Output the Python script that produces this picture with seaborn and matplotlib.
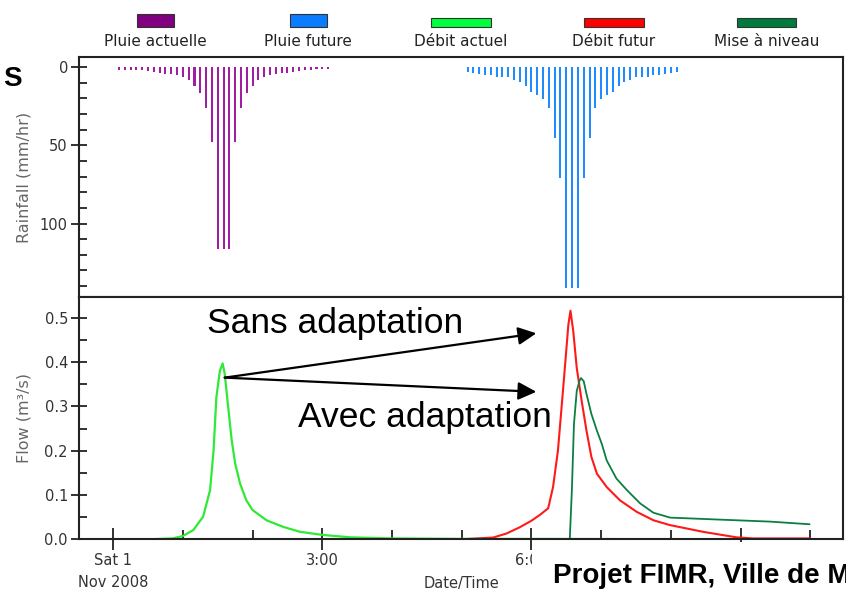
import matplotlib
matplotlib.use("Agg")
import numpy as np
import matplotlib.pyplot as plt
import matplotlib.patches as mpatches
from matplotlib.legend_handler import HandlerPatch
from matplotlib.offsetbox import VPacker
from matplotlib.ticker import MultipleLocator, FormatStrFormatter
import seaborn as sns

# rainfall, 5-minute steps, minutes after Sat 1 Nov 2008 00:00 (mm/hr)
pluie_actuelle_min = [5, 10, 15, 20, 25, 30, 35, 40, 45, 50, 55, 60, 65, 70, 75, 80, 85,
                      90, 95, 100,
                      105, 110, 115, 120, 125, 130, 135, 140, 145, 150, 155, 160, 165, 170, 175, 180, 185]
pluie_actuelle = [1.5, 1.5, 1.5, 1.8, 1.8, 2.2, 3.2, 3.8, 4.2, 4.5, 5.3, 6.5, 8.5, 12.0, 16.7, 25.9, 47.6,
                  116, 116, 116,
                  47.6, 25.9, 16.7, 12.0, 8.5, 6.2, 5.0, 4.3, 3.8, 3.8, 3.0, 2.2, 1.5, 1.5, 1.2, 1.2, 1.0]

pluie_future_min = [305, 310, 315, 320, 325, 330, 335, 340, 345, 350, 355, 360, 365, 370, 375, 380, 385,
                    390, 395, 400,
                    405, 410, 415, 420, 425, 430, 435, 440, 445, 450, 455, 460, 465, 470, 475, 480, 485]
pluie_future = [2.8, 3.8, 4.3, 4.9, 5.1, 6.4, 6.0, 6.4, 8.5, 9.8, 12.0, 15.6, 17.7, 20.3, 25.9, 45.5, 70.7,
                141, 141, 141,
                70.7, 45.5, 25.9, 20.3, 17.7, 15.6, 12.0, 9.8, 8.5, 6.4, 6.4, 6.0, 5.1, 4.9, 4.3, 3.8, 2.8]

# flows (m3/s), time in hours
debit_actuel_h = [0.0, 0.5, 0.85, 1.0, 1.15, 1.29, 1.39, 1.44, 1.48, 1.53, 1.57, 1.60, 1.65, 1.70,
                  1.75, 1.82, 1.91, 2.0, 2.2, 2.44, 2.68, 3.0, 3.4, 4.0, 5.0, 10.0]
debit_actuel = [0.0, 0.0, 0.002, 0.0075, 0.021, 0.051, 0.111, 0.2, 0.32, 0.38, 0.397, 0.374, 0.298, 0.224,
                0.171, 0.126, 0.088, 0.066, 0.043, 0.028, 0.017, 0.01, 0.0045, 0.002, 0.001, 0.0]

debit_futur_h = [5.0, 5.45, 5.64, 5.83, 6.0, 6.12, 6.24, 6.31, 6.38, 6.46, 6.53, 6.56, 6.60, 6.65,
                 6.72, 6.79, 6.86, 6.94, 7.08, 7.27, 7.51, 7.75, 7.99, 8.46, 8.94, 9.18, 10.0]
debit_futur = [0.0, 0.004, 0.013, 0.027, 0.042, 0.055, 0.07, 0.118, 0.2, 0.35, 0.485, 0.516, 0.47, 0.387,
               0.313, 0.245, 0.186, 0.148, 0.118, 0.088, 0.062, 0.043, 0.032, 0.017, 0.0045, 0.002, 0.002]

mise_niveau_h = [6.55, 6.58, 6.61, 6.65, 6.69, 6.71, 6.75, 6.79, 6.86, 6.94, 7.01, 7.08, 7.22, 7.37,
                 7.56, 7.75, 7.99, 8.46, 8.94, 9.42, 9.99]
mise_niveau = [0.0, 0.111, 0.26, 0.335, 0.358, 0.364, 0.357, 0.328, 0.283, 0.245, 0.215, 0.178, 0.137, 0.111,
               0.081, 0.06, 0.049, 0.046, 0.043, 0.04, 0.034]

legend_labels = ["Pluie actuelle", "Pluie future", "Débit actuel", "Débit futur", "Mise à niveau"]
legend_colors = ["#800080", "#0a7cff", "#00ff3c", "#ff0000", "#007a3d"]
rain_ticks = [0, 50, 100]
flow_ticks = [0.0, 0.1, 0.2, 0.3, 0.4, 0.5]
xtick_hours = [0, 3, 6, 9]
# the 9:00 label sits under the caption box in the original
xtick_labels = ["Sat 1\nNov 2008", "3:00", "6:00", ""]

sns.set_theme(style="ticks")
plt.rcParams["font.family"] = ["DejaVu Sans"]

fig = plt.figure(figsize=(8.46, 5.90), dpi=100)
ax_top = fig.add_axes([0.0934, 0.4966, 0.9031, 0.4068])
ax_bot = fig.add_axes([0.0934, 0.0859, 0.9031, 0.4107])

# rainfall bars
sns.barplot(x=np.array(pluie_actuelle_min) / 60, y=pluie_actuelle, native_scale=True, width=0.35,
            color="#a01ea0", saturation=1, errorbar=None, linewidth=0, ax=ax_top)
sns.barplot(x=np.array(pluie_future_min) / 60, y=pluie_future, native_scale=True, width=0.35,
            color="#1e8cff", saturation=1, errorbar=None, linewidth=0, ax=ax_top)

# flows
sns.lineplot(x=debit_actuel_h, y=debit_actuel, color="#2fea35", lw=1.6, sort=False, estimator=None, ax=ax_bot)
sns.lineplot(x=debit_futur_h, y=debit_futur, color="#ff1a1a", lw=1.5, sort=False, estimator=None, ax=ax_bot)
sns.lineplot(x=mise_niveau_h, y=mise_niveau, color="#0c7e42", lw=1.3, sort=False, estimator=None, ax=ax_bot)

for ax in (ax_top, ax_bot):
    ax.set_xlim(-0.49, 10.47)
    for s in ax.spines.values():
        s.set_visible(True)
        s.set_color("#222222")
        s.set_linewidth(1.5)
    ax.tick_params(axis="y", which="major", direction="inout", length=12, width=1.3,
                   color="#222222", labelcolor="#333333", labelsize=10.5, pad=2)
    ax.tick_params(axis="y", which="minor", direction="in", length=6, width=1.3, color="#222222")

ax_top.set_ylim(147, -6.5)
ax_top.set_yticks(rain_ticks)
ax_top.yaxis.set_minor_locator(MultipleLocator(10))
ax_top.tick_params(axis="x", which="both", bottom=False, labelbottom=False)
ax_top.set_xlabel("")
ax_top.set_ylabel("Rainfall (mm/hr)", fontsize=11.5, color="#666666")
ax_top.yaxis.set_label_coords(-0.062, 0.5)

ax_bot.set_ylim(0, 0.547)
ax_bot.set_yticks(flow_ticks)
ax_bot.yaxis.set_major_formatter(FormatStrFormatter("%.1f"))
ax_bot.yaxis.set_minor_locator(MultipleLocator(0.05))
ax_bot.set_ylabel("Flow (m³/s)", fontsize=11.5, color="#666666")
ax_bot.yaxis.set_label_coords(-0.062, 0.5)
ax_bot.set_xticks(xtick_hours)
ax_bot.set_xticklabels(xtick_labels)
ax_bot.xaxis.set_minor_locator(MultipleLocator(1))
ax_bot.tick_params(axis="x", which="major", direction="inout", length=16, width=1.3,
                   color="#222222", labelcolor="#333333", labelsize=10.5, pad=2)
ax_bot.tick_params(axis="x", which="minor", direction="in", length=6.5, width=1.3, color="#222222")
for t in ax_bot.get_xticklabels():
    t.set_linespacing(1.55)
ax_bot.set_xlabel("Date/Time", fontsize=10.5, color="#333333")
ax_bot.xaxis.set_label_coords(0.5, -0.152)

# annotations
arrow = dict(arrowstyle="-|>,head_length=0.55,head_width=0.27", color="black",
             lw=1.6, shrinkA=0, shrinkB=0, mutation_scale=20)
ax_bot.annotate("", xy=(6.07, 0.465), xytext=(1.60, 0.365), arrowprops=arrow)
ax_bot.annotate("", xy=(6.07, 0.333), xytext=(1.60, 0.365), arrowprops=arrow)
ax_bot.text(1.349, 0.4647, "Sans adaptation", fontsize=25.5, family="Liberation Sans",
            ha="left", va="baseline", color="black")
ax_bot.text(2.646, 0.254, "Avec adaptation", fontsize=25.5, family="Liberation Sans",
            ha="left", va="baseline", color="black")


# legend: handle above label, five equal columns across the axes
def rain_patch(legend, orig_handle, xdescent, ydescent, width, height, fontsize):
    w = width * 0.62
    return mpatches.Rectangle((-xdescent + (width - w) / 2, -ydescent), w, height)


def flow_patch(legend, orig_handle, xdescent, ydescent, width, height, fontsize):
    return mpatches.Rectangle((-xdescent, -ydescent), width, height * 0.72)


handles = [mpatches.Patch(facecolor=c, edgecolor="#333333", linewidth=0.8, label=l)
           for c, l in zip(legend_colors, legend_labels)]
hmap = {}
for i, h in enumerate(handles):
    hmap[h] = HandlerPatch(patch_func=rain_patch if i < 2 else flow_patch)
leg = ax_top.legend(handles=handles, loc="lower center", bbox_to_anchor=(0.5, 1.0), ncol=5,
                    frameon=False, fontsize=11, handlelength=3.9, handleheight=1.0,
                    columnspacing=0, borderpad=0, borderaxespad=0.5, handler_map=hmap,
                    labelcolor="#222222")
col_w = 0.9031 * 846 / 5
for col in leg._legend_handle_box.get_children():
    items = col.get_children()
    for i, item in enumerate(items):
        items[i] = VPacker(pad=0, sep=5, align="center", children=item.get_children())
    col.align = "center"
    col.width = col_w

fig.text(2.7 / 846, 1 - 86 / 590, "S", fontsize=20, fontweight="bold", family="Liberation Sans",
         ha="left", va="baseline", color="black")
fig.text(553 / 846, 1 - 582.7 / 590, "Projet FIMR, Ville de M", fontsize=20, fontweight="bold",
         family="Liberation Sans", ha="left", va="baseline", color="black",
         bbox=dict(boxstyle="square,pad=0.75", fc="white", ec="none"))

fig.savefig("out.png", dpi=100)
plt.close(fig)
